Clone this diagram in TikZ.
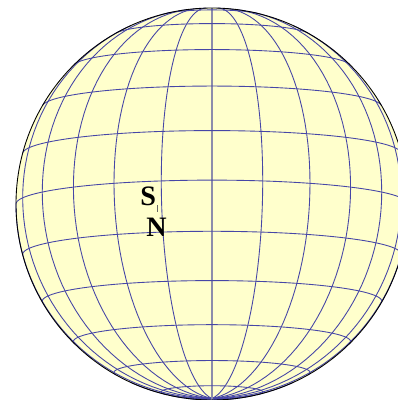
\documentclass[tikz,border=0pt]{standalone}
\usepackage{fontspec}
\setmainfont{Liberation Serif}
\usepackage{tikz}
\usepackage{xcolor}

\definecolor{sunfill}{HTML}{FFFFCC}
\definecolor{gridblue}{HTML}{4646A6}
\definecolor{cmgray}{HTML}{8C8CAC}

\begin{document}
\begin{tikzpicture}[x=0.02cm, y=0.02cm,
    grid/.style={gridblue, line width=0.5pt},
    pol/.style={font=\bfseries\fontsize{16}{16}\selectfont, inner sep=0pt}]
  \useasboundingbox (-212,-196) rectangle (186,204);
  \clip (-212,-196) rectangle (186,204);
  \fill[sunfill] (0,0) circle (196);
  % meridians, tilt 7 deg
  \foreach \l in {15,30,...,345} {
    \pgfmathsetmacro\pmax{atan(cos(\l)*cot(7))}
    \draw[grid] plot[domain=-90:\pmax, samples=60, variable=\p]
      ({196*cos(\p)*sin(\l)}, {196*(sin(\p)*cos(7)+cos(\p)*cos(\l)*sin(7))});
  }
  \draw[cmgray, line width=0.8pt] plot[domain=-90:83, samples=30, variable=\p]
      (0, {196*(sin(\p)*cos(7)+cos(\p)*sin(7))});
  % parallels
  \foreach \b in {-75,-60,...,75} {
    \pgfmathsetmacro\lmax{acos(tan(\b)*tan(7))}
    \draw[grid] plot[domain=-\lmax:\lmax, samples=80, variable=\l]
      ({196*cos(\b)*sin(\l)}, {196*(sin(\b)*cos(7)+cos(\b)*cos(\l)*sin(7))});
  }
  \draw[black, line width=0.5pt] (0,0) circle (196);
  \node[pol] (S) at (-63.7,8) {S};
  \node[pol] (N) at (-55.5,-23) {N};
  \coordinate (ts) at (-54.3,-1);
  \coordinate (tn) at (-54.3,-8);
  \draw[black!60, line width=0.3pt] (ts) -- (tn);
\end{tikzpicture}
\end{document}
